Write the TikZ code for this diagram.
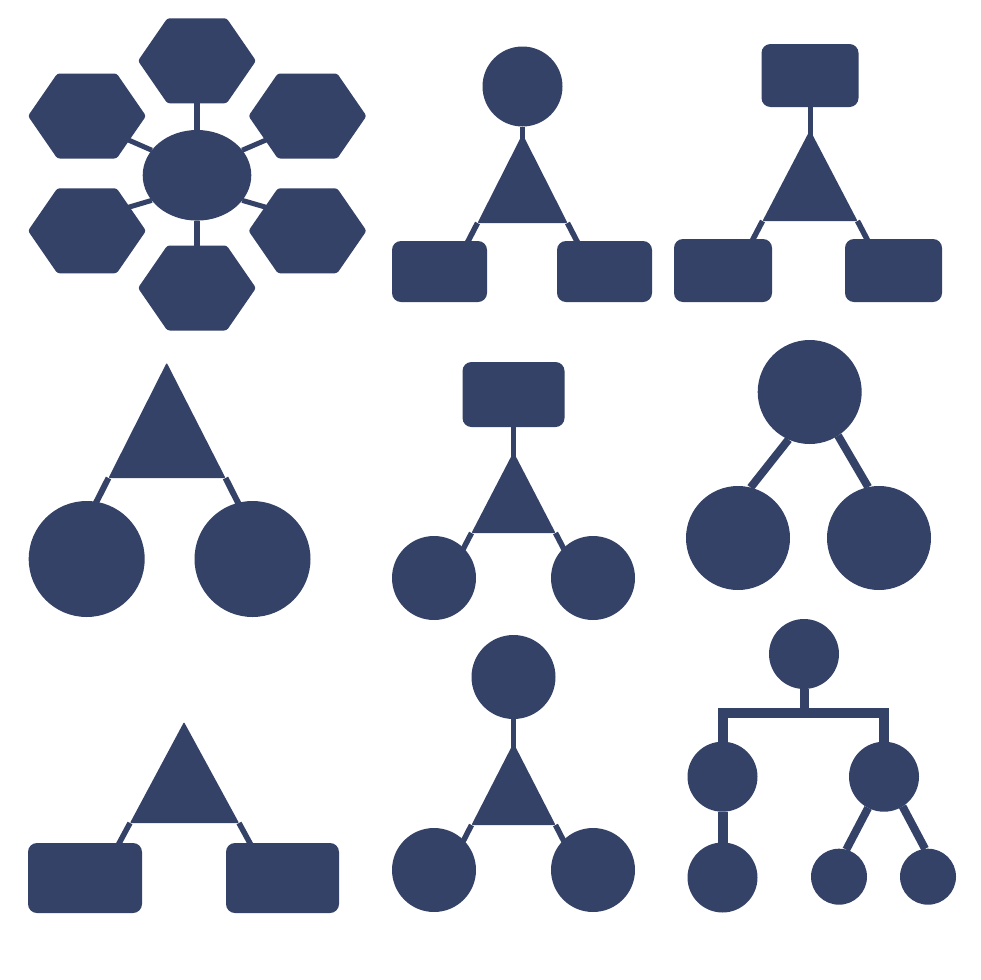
\documentclass[tikz,border=0pt]{standalone}
\usetikzlibrary{shapes.geometric,calc}
\definecolor{navy}{RGB}{53,66,104}
\tikzset{
  shapefill/.style={fill=navy, draw=none, inner sep=0pt, outer sep=0pt},
  disc/.style={shapefill, circle, minimum size=#1},
  oval/.style 2 args={shapefill, ellipse, minimum width=#1, minimum height=#2},
  box/.style 2 args={shapefill, rectangle, rounded corners=9pt, minimum width=#1, minimum height=#2},
  link/.style={draw=navy, line width=#1},
  tri/.style={fill=navy, rounded corners=1pt},
}
\newcommand{\hexfill}[1]{%
  \fill[navy, rounded corners=2.5pt] ($(#1)+(-59,0)$) -- ++(29.3,-42.5) -- ++(59.4,0)
    -- ++(29.3,42.5) -- ++(-29.3,42.5) -- ++(-59.4,0) -- cycle;}
\begin{document}
\begin{tikzpicture}[x=1pt,y=-1pt]
\fill[white] (0,0) rectangle (980,980);
\useasboundingbox (0,0) rectangle (980,980);

% ---------- icon 1: hexagons around an ellipse ----------
\coordinate (hT) at (197,60.8);
\coordinate (hUL) at (87,116);
\coordinate (hUR) at (307.5,116);
\coordinate (hLL) at (87,230.8);
\coordinate (hLR) at (307.5,230.8);
\coordinate (hB) at (197,288);
\hexfill{hT}\hexfill{hUL}\hexfill{hUR}\hexfill{hLL}\hexfill{hLR}\hexfill{hB}
\node[oval={108.6pt}{90.6pt}] (C) at (197,175.3) {};
\draw[link=6pt] ($(hT)+(0,40)$) -- (C.north);
\draw[link=6pt] (C.south) -- ($(hB)+(0,-40)$);
\draw[link=5pt] (C.151) -- ($(hUL)+(38,22.5)$);
\draw[link=5pt] (C.29) -- ($(hUR)+(-38,22.5)$);
\draw[link=5pt] (C.209) -- ($(hLL)+(38,-22.5)$);
\draw[link=5pt] (C.331) -- ($(hLR)+(-38,-22.5)$);

% ---------- icon 2: circle, triangle, two boxes ----------
\node[disc=80pt] (c2) at (522.5,86.5) {};
\coordinate (a2) at (522.5,134);
\coordinate (l2) at (477.5,223);
\coordinate (r2) at (567.5,223);
\coordinate (s2) at (522.5,142);
\fill[tri] (a2) -- (l2) -- (r2) -- cycle;
\node[box={95pt}{61pt}] (bl2) at (439.5,271.5) {};
\node[box={95pt}{61pt}] (br2) at (604.5,271.5) {};
\coordinate (el2) at (465.6,246);
\coordinate (er2) at (579.4,246);
\draw[link=5pt] (c2.south) -- (s2);
\draw[link=5.5pt] (l2) -- (el2);
\draw[link=5.5pt] (r2) -- (er2);

% ---------- icon 3: box, triangle, two boxes ----------
\node[box={97pt}{63pt}] (t3) at (810,75.5) {};
\coordinate (a3) at (810,130);
\coordinate (l3) at (762.5,221);
\coordinate (r3) at (857.5,221);
\coordinate (s3) at (810,138);
\fill[tri] (a3) -- (l3) -- (r3) -- cycle;
\node[box={98pt}{63pt}] (bl3) at (723,270.5) {};
\node[box={97pt}{63pt}] (br3) at (893.5,270.5) {};
\coordinate (el3) at (750.5,244);
\coordinate (er3) at (869.5,244);
\draw[link=5pt] (t3.south) -- (s3);
\draw[link=5.5pt] (l3) -- (el3);
\draw[link=5.5pt] (r3) -- (er3);

% ---------- icon 4: triangle, two big circles ----------
\coordinate (a4) at (166.7,362.7);
\coordinate (l4) at (108.5,478);
\coordinate (r4) at (225.5,478);
\fill[tri] (a4) -- (l4) -- (r4) -- cycle;
\node[disc=116pt] (cl4) at (86.7,559) {};
\node[disc=116pt] (cr4) at (252.5,559) {};
\coordinate (el4) at (93.3,508);
\coordinate (er4) at (240.7,508);
\draw[link=6pt] (l4) -- (el4);
\draw[link=6pt] (r4) -- (er4);

% ---------- icon 5: box, triangle, two circles ----------
\node[box={102pt}{65pt}] (t5) at (513.5,394.5) {};
\coordinate (a5) at (513.5,452);
\coordinate (l5) at (471.5,533);
\coordinate (r5) at (555.5,533);
\coordinate (s5) at (513.5,460);
\fill[tri] (a5) -- (l5) -- (r5) -- cycle;
\node[disc=84pt] (cl5) at (434,578) {};
\node[disc=84pt] (cr5) at (593,578) {};
\coordinate (el5) at (461.1,553);
\coordinate (er5) at (565.9,553);
\draw[link=5pt] (t5.south) -- (s5);
\draw[link=5.5pt] (l5) -- (el5);
\draw[link=5.5pt] (r5) -- (er5);

% ---------- icon 6: three circles ----------
\node[disc=104pt] (t6) at (809.7,392) {};
\node[disc=104pt] (cl6) at (738,538) {};
\node[disc=104pt] (cr6) at (879,538) {};
\draw[link=8pt] (t6.246) -- (cl6.76);
\draw[link=8pt] (t6.303) -- (cr6.102);

% ---------- icon 7: triangle, two boxes ----------
\coordinate (a7) at (184,722);
\coordinate (l7) at (130,823);
\coordinate (r7) at (239,823);
\fill[tri] (a7) -- (l7) -- (r7) -- cycle;
\node[box={114pt}{70pt}] (bl7) at (85,878) {};
\node[box={113pt}{70pt}] (br7) at (282.5,878) {};
\coordinate (el7) at (116.6,848);
\coordinate (er7) at (252.6,848);
\draw[link=5.5pt] (l7) -- (el7);
\draw[link=5.5pt] (r7) -- (er7);

% ---------- icon 8: circle, triangle, two circles ----------
\node[disc=84pt] (t8) at (513.5,677) {};
\coordinate (a8) at (513.5,743);
\coordinate (l8) at (471.5,825);
\coordinate (r8) at (555.5,825);
\coordinate (s8) at (513.5,751);
\fill[tri] (a8) -- (l8) -- (r8) -- cycle;
\node[disc=84pt] (cl8) at (434,870) {};
\node[disc=84pt] (cr8) at (593,870) {};
\coordinate (el8) at (460.7,846);
\coordinate (er8) at (566.3,846);
\draw[link=5pt] (t8.south) -- (s8);
\draw[link=5.5pt] (l8) -- (el8);
\draw[link=5.5pt] (r8) -- (er8);

% ---------- icon 9: org tree ----------
\node[disc=70pt] (t9) at (804,654) {};
\node[disc=70pt] (m1) at (722.5,776.7) {};
\node[disc=70pt] (m2) at (884,776.7) {};
\node[disc=70pt] (b1) at (722.5,877.5) {};
\node[disc=56pt] (s1) at (839,876.7) {};
\node[disc=56pt] (s2) at (928,876.7) {};
\coordinate (bar) at (804,713.3);
\draw[link=9pt] (t9.south) -- (bar);
\draw[link=10pt, line join=miter] (m1.north) |- (bar) -| (m2.north);
\draw[link=10pt] (m1.south) -- (b1.north);
\draw[link=8pt] (m2.243) -- (s1.75);
\draw[link=8pt] (m2.302) -- (s2.96);
\end{tikzpicture}
\end{document}
